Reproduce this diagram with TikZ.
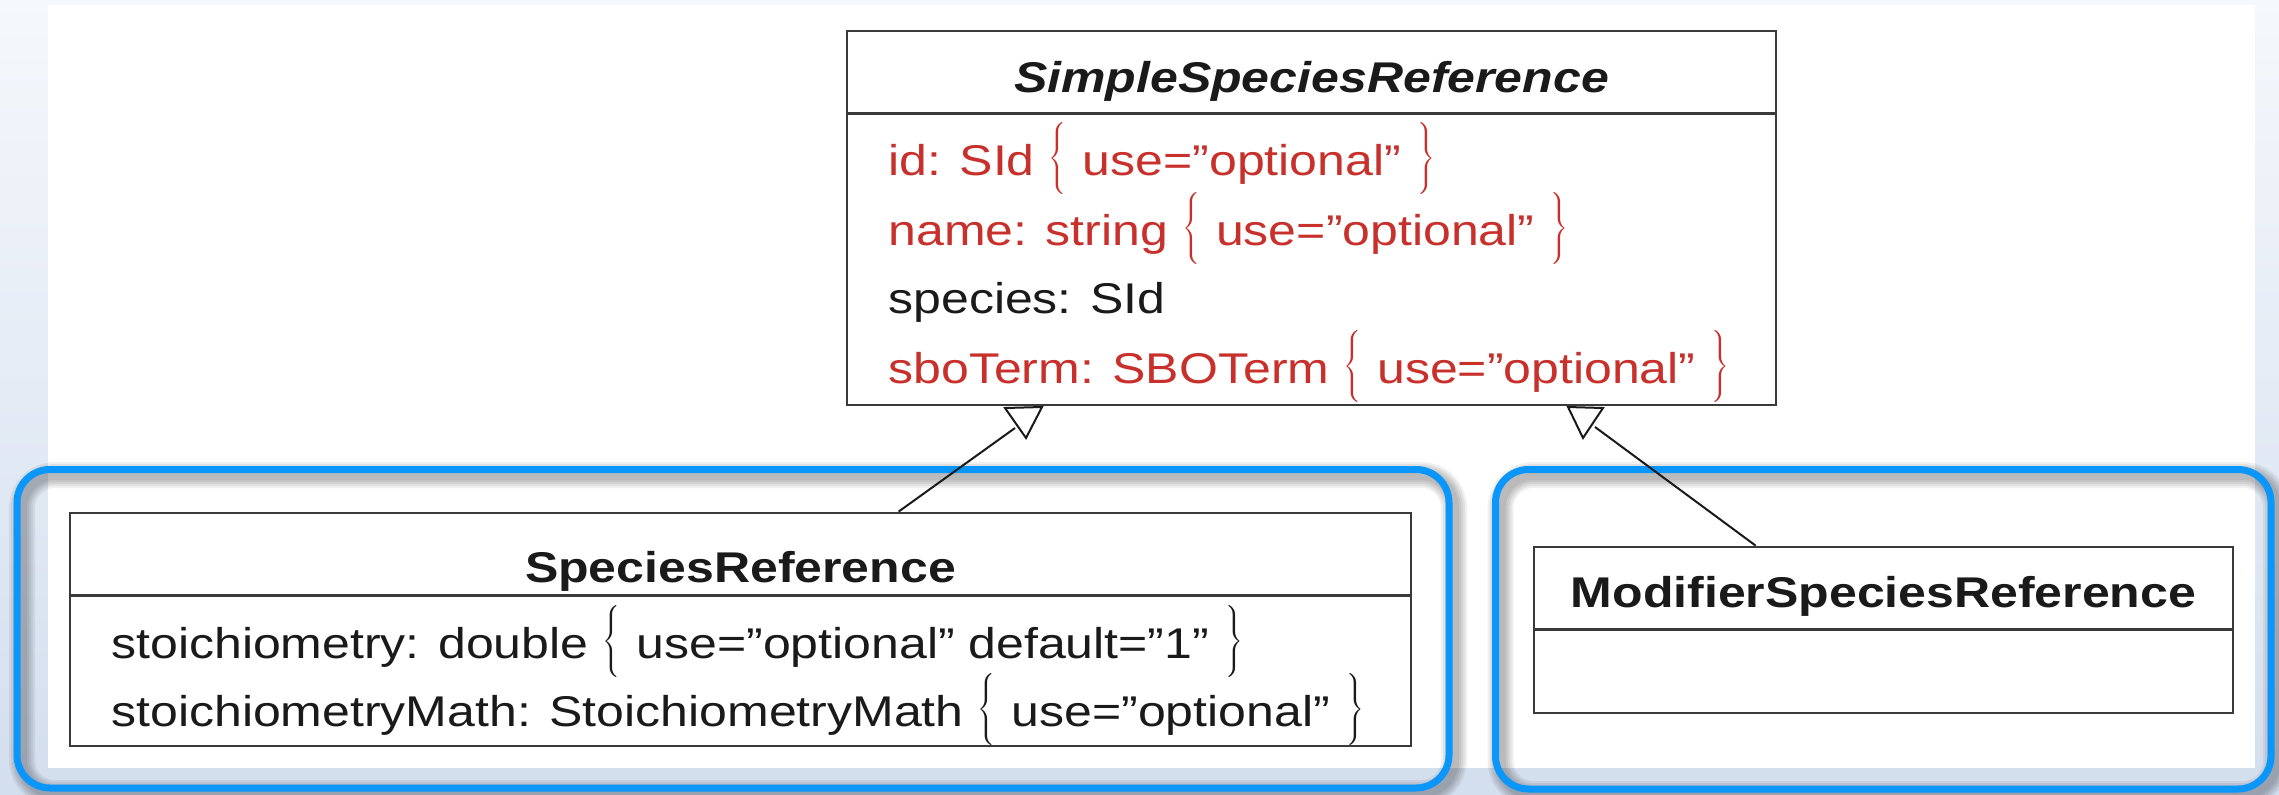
\documentclass[tikz,border=0pt]{standalone}
\usepackage{fontspec}
\usetikzlibrary{calc}
\newfontfamily\umlfont[FakeStretch=1.163]{Liberation Sans}
\definecolor{bgtop}{HTML}{F5F8FC}
\definecolor{bgbot}{HTML}{D3DEEE}
\definecolor{azure}{HTML}{0A96FA}
\definecolor{boxline}{HTML}{3A3A3A}
\definecolor{ink}{HTML}{1A1A1A}
\definecolor{umlred}{HTML}{C8302C}
% large thin braces around the attribute constraints (kept out of the line height)
\newcommand\openbr{\smash{\raisebox{3pt}{$\left\{\vrule height 14pt depth 14pt width 0pt\right.$}}}
\newcommand\closebr{\smash{\raisebox{3pt}{$\left.\vrule height 14pt depth 14pt width 0pt\right\}$}}}
\begin{document}
\begin{tikzpicture}[x=0.5pt,y=-0.5pt,
  classbox/.style={rectangle, draw=boxline, line width=1.4pt, fill=white, inner sep=0pt},
  divider/.style={draw=boxline, line width=1.4pt},
  classname/.style={inner sep=0pt, anchor=base, text=ink,
    font=\umlfont\fontsize{21.5}{25}\selectfont\bfseries},
  attr/.style={inner sep=0pt, anchor=base west, text=ink,
    font=\umlfont\fontsize{21.5}{25}\selectfont},
  optattr/.style={attr, text=umlred},
  link/.style={draw=ink, line width=1pt},
  gentip/.style={draw=ink, line width=1pt, fill=white, line join=miter},
  groupframe/.style={rectangle, draw=azure, line width=3.5pt, rounded corners=16.5pt, inner sep=0pt},
  groupshade/.style={draw=black, opacity=0.06, rounded corners=16.5pt}
]
\useasboundingbox (0,0) rectangle (2279,794);
% page background and white sheet
\shade[top color=bgtop, bottom color=bgbot] (0,0) rectangle (2279,794);
\fill[white] (48,5) rectangle (2255,768);

% soft shadows of the group frames
\foreach \w in {13pt,11pt,9pt,7pt,5pt}{
  \draw[groupshade, line width=\w] (22,475) rectangle (1454,793);
  \draw[groupshade, line width=\w] (1500.5,475) rectangle (2276,794);
}
% group frames
\node[groupframe, minimum width=716pt, minimum height=159.25pt] (grpL) at (733,628.75) {};
\node[groupframe, minimum width=387.75pt, minimum height=159.75pt] (grpR) at (1883.25,629.25) {};

% SimpleSpeciesReference
\node[classbox, minimum width=464.5pt, minimum height=187pt] (super) at (1311.5,218) {};
\draw[divider] ($(super.north west)+(0,84)$) -- ($(super.north east)+(0,84)$);
\node[classname] (superName) at (1311.5,92) {\itshape SimpleSpeciesReference};
\node[optattr] (superA1) at (888,175) {id: SId \openbr{} use=”optional” \closebr};
\node[optattr] (superA2) at (888,245) {name: string \openbr{} use=”optional” \closebr};
\node[attr] (superA3) at (888,313) {species: SId};
\node[optattr] (superA4) at (888,383) {sboTerm: SBOTerm \openbr{} use=”optional” \closebr};

% SpeciesReference
\node[classbox, minimum width=670.5pt, minimum height=116.5pt] (sr) at (740.5,629.5) {};
\draw[divider] ($(sr.north west)+(0,84)$) -- ($(sr.north east)+(0,84)$);
\node[classname] (srName) at (740.5,582) {SpeciesReference};
\node[attr] (srA1) at (111,658) {stoichiometry: double \openbr{} use=”optional” default=”1” \closebr};
\node[attr] (srA2) at (111,726) {stoichiometryMath: StoichiometryMath \openbr{} use=”optional” \closebr};

% ModifierSpeciesReference
\node[classbox, minimum width=349.5pt, minimum height=83pt] (msr) at (1883.5,630) {};
\draw[divider] ($(msr.north west)+(0,84)$) -- ($(msr.north east)+(0,84)$);
\node[classname] (msrName) at (1883.5,607) {ModifierSpeciesReference};

% generalisation links
\coordinate (tipL) at (1015,428);
\coordinate (tipR) at (1595,427);
\draw[link] ($(sr.north west)+(830,0)$) -- (tipL);
\draw[link] ($(msr.north west)+(223,0)$) -- (tipR);
\draw[gentip] (1005,408) -- (1042,407) -- (1026,438) -- cycle;
\draw[gentip] (1568,407) -- (1603,408) -- (1583,438) -- cycle;
\end{tikzpicture}
\end{document}
